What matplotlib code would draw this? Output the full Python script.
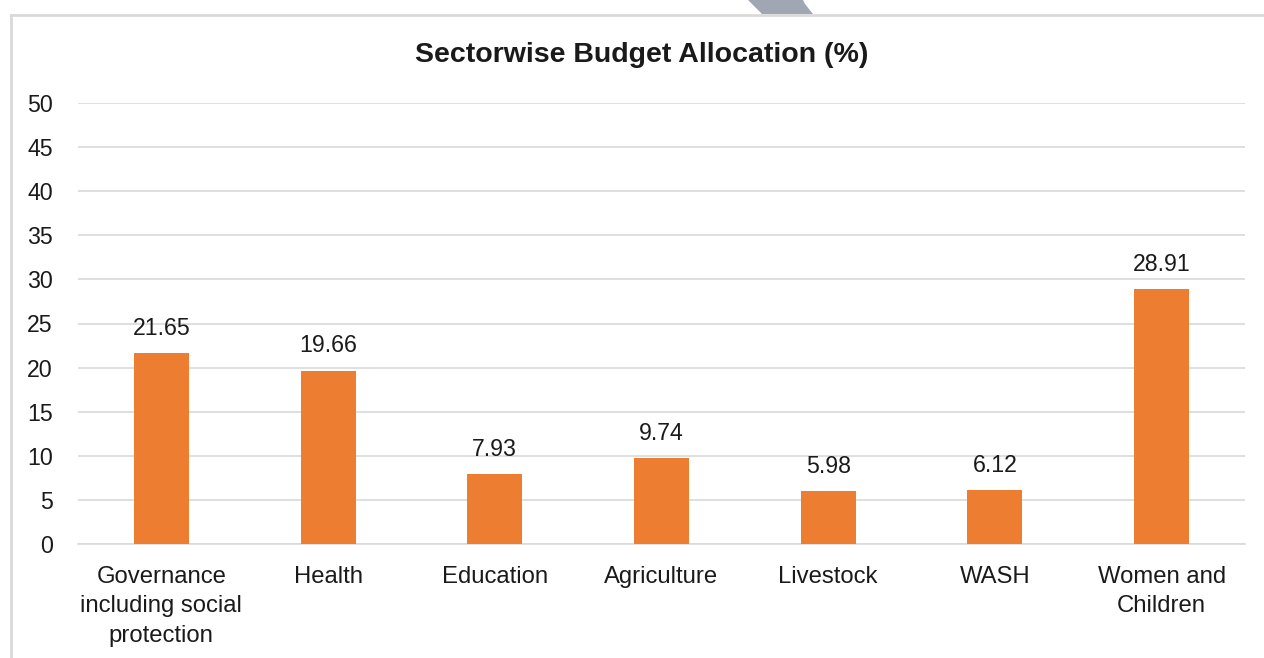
import matplotlib.pyplot as plt
from matplotlib.patches import Polygon
from matplotlib.lines import Line2D

plt.rcParams['font.family'] = ['Liberation Sans', 'DejaVu Sans']

sectors = ['Governance\nincluding social\nprotection', 'Health', 'Education',
           'Agriculture', 'Livestock', 'WASH', 'Women and\nChildren']
shares = [21.65, 19.66, 7.93, 9.74, 5.98, 6.12, 28.91]
yticks = [0, 5, 10, 15, 20, 25, 30, 35, 40, 45, 50]

W, H = 1264, 658
fig = plt.figure(figsize=(W / 100, H / 100), dpi=100)
ax = fig.add_axes([78 / W, 1 - 544 / H, (1245 - 78) / W, (544 - 103) / H])

x = range(len(sectors))
bars = ax.bar(x, shares, width=0.33, color='#ED7D31', zorder=3)
for b, v in zip(bars, shares):
    ax.text(b.get_x() + b.get_width() / 2, v + 1.5, f'{v:.2f}',
            ha='center', va='bottom', fontsize=16.7, color='#1a1a1a')

ax.set_xlim(-0.5, len(sectors) - 0.5)
ax.set_ylim(0, 50)
ax.set_yticks(yticks)
ax.set_xticks(list(x))
ax.set_xticklabels(sectors, fontsize=17.2, color='#1a1a1a', linespacing=1.42)
ax.tick_params(axis='y', labelsize=16.7, labelcolor='#1a1a1a', length=0, pad=18)
ax.tick_params(axis='x', length=0, pad=16)
ax.grid(axis='y', color='#d9d9d9', linewidth=1.2, zorder=0)
for s in ['top', 'right', 'left']:
    ax.spines[s].set_visible(False)
ax.spines['bottom'].set_color('#d9d9d9')
ax.spines['bottom'].set_linewidth(1.2)

fig.text(642 / W, 1 - 55 / H, 'Sectorwise Budget Allocation (%)',
         ha='center', va='center', fontsize=20.5, fontweight='bold', color='#1a1a1a')

# chart frame (top and left edges visible)
fig.add_artist(Line2D([11 / W, 1], [1 - 15 / H, 1 - 15 / H], color='#d9d9d9', linewidth=2))
fig.add_artist(Line2D([11 / W, 11 / W], [0, 1 - 15 / H], color='#d9d9d9', linewidth=2))

# grey shape clipped at the top
pts = [(748, 0), (803, 0), (805, 4), (813, 14), (762, 14)]
fig.add_artist(Polygon([(px / W, 1 - py / H) for px, py in pts], closed=True,
                       facecolor='#a0a7b3', edgecolor='none', transform=fig.transFigure))

fig.savefig('out.png', dpi=100)
